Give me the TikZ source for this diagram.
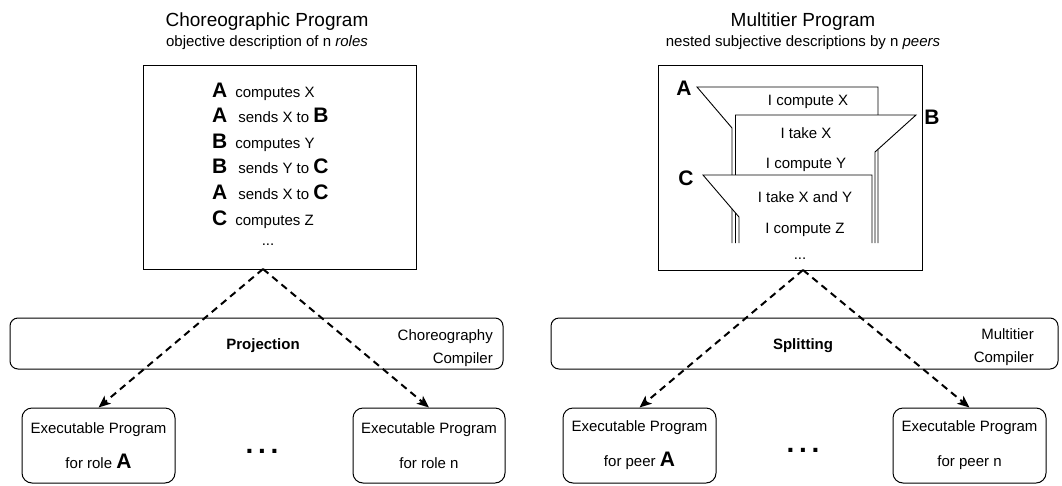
\documentclass[tikz,border=0pt]{standalone}
\usepackage{fontspec}
\setmainfont{Liberation Sans}
\usepackage{tikz}
\usetikzlibrary{arrows.meta}

\newcommand{\bigrole}[1]{{\fontsize{21}{21}\selectfont\bfseries #1}}

\begin{document}
\begin{tikzpicture}[x=1pt,y=-1pt,
  every node/.style={font=\fontsize{15}{18}\selectfont, inner sep=0pt},
  prog/.style={draw, line width=1pt},
  comp/.style={draw, line width=1pt, rounded corners=8pt, minimum height=51pt},
  exec/.style={draw, line width=1pt, rounded corners=10pt, minimum width=153pt, minimum height=75pt, align=center},
  flow/.style={line width=2pt, dash pattern=on 7pt off 5pt, -{Stealth[length=12pt,width=10pt,inset=3pt]}},
  tier/.style={line width=0.9pt}]
\useasboundingbox (0,0) rectangle (1062,485);
\fill[white] (0,0) rectangle (1062,485);

% titles
\node[anchor=base, font=\fontsize{19}{22}\selectfont] (ctitle) at (267,26) {Choreographic Program};
\node[anchor=base] (csub) at (267,46) {objective description of n \textit{roles}};
\node[anchor=base, font=\fontsize{19}{22}\selectfont] (mtitle) at (803,26) {Multitier Program};
\node[anchor=base] (msub) at (803,46) {nested subjective descriptions by n \textit{peers}};

% choreographic program
\node[prog, minimum width=273pt, minimum height=204pt] (chor) at (279.5,167) {};
\foreach \t [count=\i from 0] in {%
  {\bigrole{A}\hspace{8pt}computes X},
  {\bigrole{A}\hspace{11pt}sends X to \bigrole{B}},
  {\bigrole{B}\hspace{8pt}computes Y},
  {\bigrole{B}\hspace{11pt}sends Y to \bigrole{C}},
  {\bigrole{A}\hspace{11pt}sends X to \bigrole{C}},
  {\bigrole{C}\hspace{8pt}computes Z}}
  \node[anchor=base west] (l\i) at (212,97+25.6*\i) {\t};
\node[anchor=base] (cdots) at (268,245) {...};

% multitier program
\node[prog, minimum width=264pt, minimum height=205pt] (multi) at (790,167.5) {};
\fill[white] (697,87) -- (878,87) -- (878,243) -- (732,243) -- (732,128) -- cycle;
\draw[tier] (878,243) -- (878,87) -- (697,87) -- (732,128) -- (732,243);
\fill[white] (735.5,115) -- (916,115) -- (875,152) -- (875,243) -- (735.5,243) -- cycle;
\draw[tier] (735.5,243) -- (735.5,115) -- (916,115) -- (875,152) -- (875,243);
\fill[white] (703,175) -- (872,175) -- (872,243) -- (739,243) -- (739,217) -- cycle;
\draw[tier] (872,243) -- (872,175) -- (703,175) -- (739,217) -- (739,243);
\node (pa) at (684,88) {\bigrole{A}};
\node (pb) at (932,117) {\bigrole{B}};
\node (pc) at (686,178) {\bigrole{C}};
\node[anchor=base] (t1) at (808,105.5) {I compute X};
\node[anchor=base] (t2) at (806,138.5) {I take X};
\node[anchor=base] (t3) at (806,168.5) {I compute Y};
\node[anchor=base] (t4) at (805,202.5) {I take X and Y};
\node[anchor=base] (t5) at (805,233.5) {I compute Z};
\node[anchor=base] (mdots) at (800,259) {...};

% compilers
\node[comp, minimum width=493pt] (proj) at (256.5,343.5) {};
\node[anchor=base, font=\fontsize{15}{18}\selectfont\bfseries] (projl) at (263,349) {Projection};
\node[anchor=east, align=right, font=\fontsize{15}{23}\selectfont] (chorc) at (493,348.5) {Choreography\\Compiler};
\node[comp, minimum width=507pt] (split) at (804.5,343.5) {};
\node[anchor=base, font=\fontsize{15}{18}\selectfont\bfseries] (splitl) at (803,349) {Splitting};
\node[anchor=east, align=right, font=\fontsize{15}{23}\selectfont] (multc) at (1034,347) {Multitier\\Compiler};

% executables
\node[exec] (ex1) at (98.5,445.5) {Executable Program\\[17pt]for role \bigrole{A}};
\node[exec, minimum width=152pt] (ex2) at (429,445.5) {Executable Program\\[17pt]for role n};
\node[exec] (ex3) at (639.5,445.5) {Executable Program\\[17pt]for peer \bigrole{A}};
\node[exec] (ex4) at (969.5,445.5) {Executable Program\\[17pt]for peer n};
\node[font=\fontsize{28}{28}\selectfont\bfseries] (cgap) at (262,451) {.\,.\,.};
\node[font=\fontsize{28}{28}\selectfont\bfseries] (mgap) at (803,450) {.\,.\,.};

\coordinate (csrc) at (263,269);
\coordinate (msrc) at (803,270);
%\draw[flow] (chor.south) -- (ex1.north);
\draw[flow] (csrc) -- (ex1.north);
\draw[flow] (csrc) -- (ex2.north);
\draw[flow] (msrc) -- (ex3.north);
\draw[flow] (msrc) -- (ex4.north);
\end{tikzpicture}
\end{document}
